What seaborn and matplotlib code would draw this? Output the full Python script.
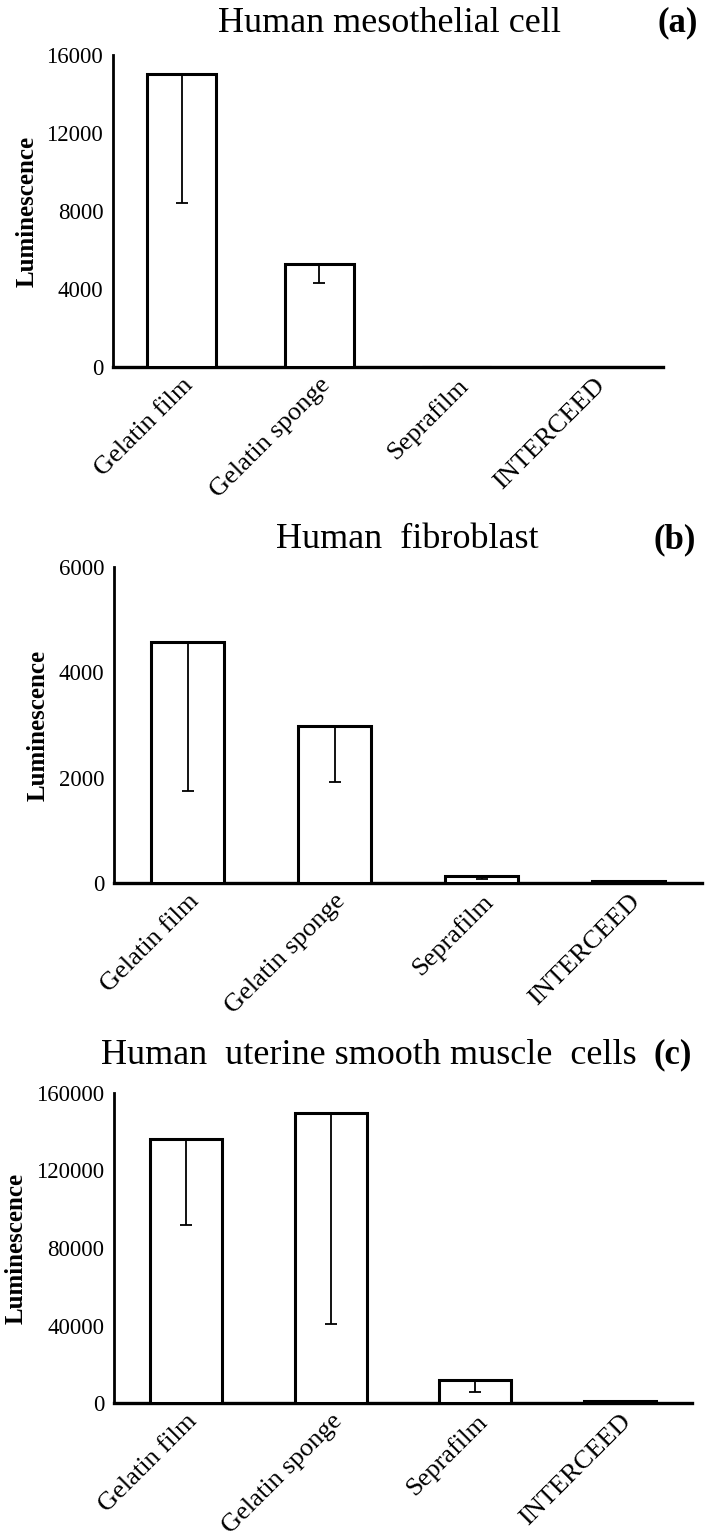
"""
Luminescence (cell viability) on four anti-adhesion materials, three cell types.
Bars are means; error bars drawn one-sided (downward) as in the source figure.
"""

import matplotlib as mpl
import matplotlib.pyplot as plt
import numpy as np
import pandas as pd
import seaborn as sns

MATERIALS = ["Gelatin film", "Gelatin sponge", "Seprafilm", "INTERCEED"]

MESOTHELIAL_MEAN = [15000, 5300, 0, 0]
MESOTHELIAL_ERR = [6600, 1000, 0, 0]

FIBROBLAST_MEAN = [4570, 2980, 130, 45]
FIBROBLAST_ERR = [2820, 1060, 55, 20]

UTERINE_MEAN = [136500, 149500, 11900, 800]
UTERINE_ERR = [44500, 108500, 6000, 300]

PANELS = [
    {
        "title": "Human mesothelial cell", "tag": "(a)",
        "mean": MESOTHELIAL_MEAN, "err": MESOTHELIAL_ERR,
        "ylim": 16000, "ticks": [0, 4000, 8000, 12000, 16000],
        # axes box in pixels: left, right, top, bottom
        "box": (113, 663, 55, 367), "title_xy": (390, 23), "tag_x": 678, "ylab_x": -0.135,
    },
    {
        "title": "Human  fibroblast", "tag": "(b)",
        "mean": FIBROBLAST_MEAN, "err": FIBROBLAST_ERR,
        "ylim": 6000, "ticks": [0, 2000, 4000, 6000],
        "box": (114, 702, 567, 883), "title_xy": (407, 540), "tag_x": 675, "ylab_x": -0.11,
    },
    {
        "title": "Human  uterine smooth muscle  cells", "tag": "(c)",
        "mean": UTERINE_MEAN, "err": UTERINE_ERR,
        "ylim": 160000, "ticks": [0, 40000, 80000, 120000, 160000],
        "box": (114, 692, 1093, 1403), "title_xy": (369, 1055), "tag_x": 673, "ylab_x": -0.15,
    },
]

W, H = 709, 1540


def setup_style():
    sns.set_theme(style="white")
    mpl.rcParams.update({
        "font.family": ["Liberation Serif", "DejaVu Serif"],
        "text.color": "black",
        "axes.labelcolor": "black",
        "axes.edgecolor": "black",
        "axes.linewidth": 2.2,
        "xtick.color": "black",
        "ytick.color": "black",
    })


def draw_panel(fig, spec):
    left, right, top, bottom = spec["box"]
    ax = fig.add_axes([left / W, 1 - bottom / H, (right - left) / W, (bottom - top) / H])

    df = pd.DataFrame({"Material": MATERIALS, "Luminescence": spec["mean"], "Err": spec["err"]})
    sns.barplot(
        data=df, x="Material", y="Luminescence", order=MATERIALS,
        color="white", edgecolor="black", linewidth=2.2, width=0.5,
        errorbar=None, ax=ax, zorder=3,
    )
    err = df["Err"].to_numpy()
    ax.errorbar(
        np.arange(len(MATERIALS)), df["Luminescence"],
        yerr=[err, np.zeros_like(err)],
        fmt="none", ecolor="black", elinewidth=1.3, capsize=4, capthick=1.3, zorder=4,
    )

    ax.set_xlim(-0.5, len(MATERIALS) - 0.5)
    ax.set_ylim(0, spec["ylim"])
    ax.set_yticks(spec["ticks"])
    ax.tick_params(axis="y", length=0, pad=7, labelsize=16.5)
    ax.tick_params(axis="x", length=0, pad=5, labelsize=19)
    for lab in ax.get_xticklabels():
        lab.set_rotation(45)
        lab.set_ha("right")
        lab.set_va("top")
        lab.set_rotation_mode("anchor")

    ax.set_xlabel("")
    ax.set_ylabel("Luminescence", fontsize=18, fontweight="bold")
    ax.yaxis.set_label_coords(spec["ylab_x"], 0.5)
    ax.spines[["top", "right"]].set_visible(False)
    ax.spines["left"].set_linewidth(2.0)
    ax.spines["bottom"].set_linewidth(2.4)
    ax.set_facecolor("white")

    tx, ty = spec["title_xy"]
    fig.text(tx / W, 1 - ty / H, spec["title"], ha="center", va="center", fontsize=26)
    fig.text(spec["tag_x"] / W, 1 - ty / H, spec["tag"], ha="center", va="center",
             fontsize=25, fontweight="bold")
    return ax


def main():
    setup_style()
    fig = plt.figure(figsize=(W / 100, H / 100), dpi=100)
    fig.patch.set_facecolor("white")
    for spec in PANELS:
        draw_panel(fig, spec)
    fig.savefig("out.png", dpi=100, facecolor="white")
    plt.close(fig)


if __name__ == "__main__":
    main()
